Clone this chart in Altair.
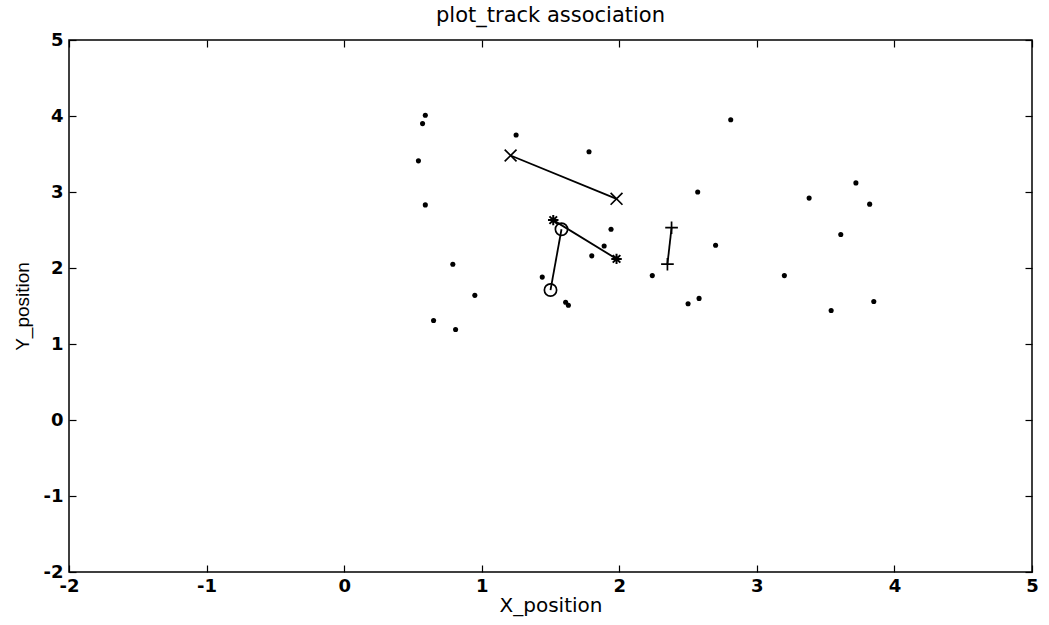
import altair as alt
import pandas as pd

# Unassociated plot detections
dot_x = [0.59, 0.57, 0.54, 0.59, 1.25, 1.78, 0.79, 0.95, 0.65, 0.81, 1.44, 1.61, 1.63,
         1.94, 1.89, 1.80, 2.57, 2.70, 2.24, 2.50, 2.58, 2.81, 3.72, 3.38, 3.82, 3.61,
         3.20, 3.85, 3.54]
dot_y = [4.01, 3.90, 3.41, 2.83, 3.75, 3.53, 2.05, 1.64, 1.31, 1.19, 1.88, 1.55, 1.51,
         2.51, 2.29, 2.16, 3.00, 2.30, 1.90, 1.53, 1.60, 3.95, 3.12, 2.92, 2.84, 2.44,
         1.90, 1.56, 1.44]

# Associated tracks (pairs of points joined by a line)
track_id = ["x", "x", "star", "star", "circle", "circle", "plus", "plus"]
track_x = [1.21, 1.98, 1.52, 1.98, 1.58, 1.50, 2.38, 2.35]
track_y = [3.48, 2.91, 2.63, 2.12, 2.51, 1.71, 2.53, 2.05]

x_ticks = [-2, -1, 0, 1, 2, 3, 4, 5]
y_ticks = [-2, -1, 0, 1, 2, 3, 4, 5]

dots = pd.DataFrame({"x": dot_x, "y": dot_y})
tracks = pd.DataFrame({"track": track_id, "x": track_x, "y": track_y})

xscale = alt.Scale(domain=[-2, 5], nice=False, zero=False)
yscale = alt.Scale(domain=[-2, 5], nice=False, zero=False)

label_expr = "datum.value < 0 ? '-' + format(-datum.value, 'd') : format(datum.value, 'd')"

common = dict(
    tickSize=7, offset=-7, domain=False, grid=False, tickColor="black", tickWidth=1.2,
    labelFlush=False, labelOverlap=False, labelBound=False,
)

xaxis = alt.Axis(
    orient="bottom", values=x_ticks, title="X_position", labelExpr=label_expr,
    labelPadding=5, labelFont="DejaVu Sans", labelFontSize=18, labelFontWeight="bold",
    labelColor="black", titleFont="DejaVu Sans", titleFontSize=20, titleFontWeight="normal",
    titleColor="black", titlePadding=0,
    **common,
)
yaxis = alt.Axis(
    orient="left", values=y_ticks, title="Y_position", labelExpr=label_expr,
    labelPadding=6, labelFont="DejaVu Sans", labelFontSize=18, labelFontWeight="bold",
    labelColor="black", labelBaseline="middle", titleFont="Liberation Sans", titleFontSize=19,
    titleFontWeight="normal", titleColor="black", titleX=-54, titleY=266,
    titleBaseline="middle", titleAngle=270, **common,
)
xaxis_top = alt.Axis(orient="top", values=x_ticks, labels=False, title=None, **common)
yaxis_right = alt.Axis(orient="right", values=y_ticks, labels=False, title=None, **common)

dot_layer = alt.Chart(dots).mark_circle(size=26, color="black", opacity=1).encode(
    x=alt.X("x:Q", scale=xscale, axis=xaxis),
    y=alt.Y("y:Q", scale=yscale, axis=yaxis),
)

line_layer = alt.Chart(tracks).mark_line(color="black", strokeWidth=1.8).encode(
    x=alt.X("x:Q", scale=xscale, axis=xaxis_top),
    y=alt.Y("y:Q", scale=yscale, axis=yaxis_right),
    detail="track:N",
)

X_PATH = "M-1,-1L1,1M-1,1L1,-1"
STAR_PATH = "M-1,0L1,0M0,-1L0,1M-0.72,-0.72L0.72,0.72M-0.72,0.72L0.72,-0.72"
PLUS_PATH = "M-1,0L1,0M0,-1L0,1"


def marker(track, shape, size, sw):
    return alt.Chart(tracks).transform_filter(alt.datum.track == track).mark_point(
        shape=shape, size=size, filled=False, color="black", strokeWidth=sw, opacity=1
    ).encode(
        x=alt.X("x:Q", scale=xscale, axis=None),
        y=alt.Y("y:Q", scale=yscale, axis=None),
    )


chart = alt.layer(
    dot_layer,
    line_layer,
    marker("x", X_PATH, 140, 1.7),
    marker("star", STAR_PATH, 110, 2.0),
    marker("circle", "circle", 150, 1.7),
    marker("plus", PLUS_PATH, 160, 1.7),
).resolve_axis(x="independent", y="independent").properties(
    width=963,
    height=532,
    title=alt.TitleParams(
        "plot_track association", font="DejaVu Sans", fontSize=21, fontWeight="normal",
        color="black", offset=5, anchor="middle",
    ),
    autosize=alt.AutoSizeParams(type="none"),
    padding={"left": 69, "top": 40, "right": 17, "bottom": 53},
    background="white",
).configure_view(stroke="black", strokeWidth=1.5)

chart.save("out.html", embed_options={"renderer": "svg", "actions": False})
